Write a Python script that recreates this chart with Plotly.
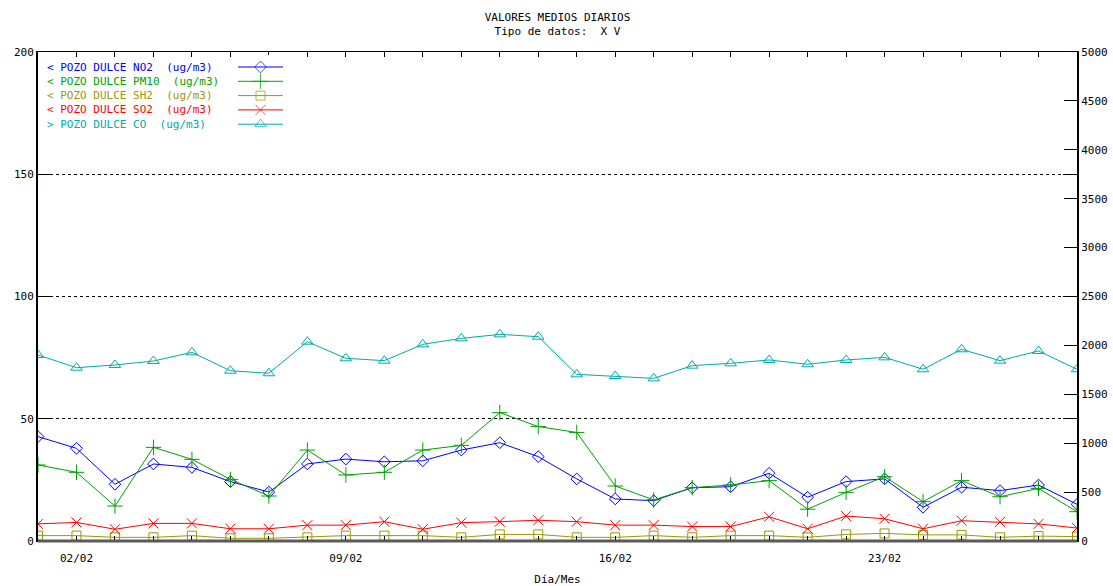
import plotly.graph_objects as go

# ---------------- data ----------------
days = list(range(1, 29))
day_labels = [f"{d:02d}/02" for d in days]
shown_labels = ["02/02", "09/02", "16/02", "23/02"]

no2 = [42.7, 37.9, 23.2, 31.5, 30.1, 24.3, 20.0, 31.5, 33.5, 32.4, 32.8, 37.2, 40.2, 34.5,
       25.4, 17.2, 16.5, 21.8, 22.2, 27.7, 17.9, 24.3, 25.4, 13.8, 22.0, 20.6, 22.9, 15.0]
pm10 = [31.1, 28.1, 14.3, 38.3, 33.4, 25.2, 18.4, 37.2, 27.0, 28.1, 37.2, 39.1, 52.5, 46.8,
        44.4, 22.5, 16.8, 21.8, 22.9, 24.7, 13.0, 19.9, 26.3, 16.1, 24.7, 18.1, 21.5, 12.0]
sh2 = [2.2, 2.2, 1.5, 1.5, 2.2, 1.1, 1.1, 1.5, 2.2, 2.2, 2.2, 1.5, 2.7, 2.7,
       1.5, 1.5, 2.2, 1.5, 2.2, 2.2, 1.5, 2.7, 3.1, 2.5, 2.5, 1.5, 2.0, 1.8]
so2 = [7.0, 7.6, 4.8, 7.2, 7.2, 5.0, 5.0, 6.5, 6.5, 7.9, 4.8, 7.5, 7.9, 8.5,
       7.9, 6.5, 6.5, 5.9, 5.9, 9.9, 5.0, 10.2, 9.1, 5.0, 8.3, 7.8, 7.0, 5.3]
co = [1902, 1772, 1800, 1840, 1929, 1741, 1715, 2038, 1868, 1844, 2011, 2072, 2113, 2089,
      1704, 1687, 1663, 1793, 1817, 1851, 1807, 1851, 1878, 1756, 1960, 1844, 1943, 1756]

legend_texts = ["< POZO DULCE NO2  (ug/m3)",
                "< POZO DULCE PM10  (ug/m3)",
                "< POZO DULCE SH2  (ug/m3)",
                "< POZO DULCE SO2  (ug/m3)",
                "> POZO DULCE CO  (ug/m3)"]

left_ticks = [0, 50, 100, 150, 200]
right_ticks = list(range(0, 5001, 500))

# ---------------- styles ----------------
FONT = "DejaVu Sans Mono"
series = [
    dict(y=no2, color="#0000ff", symbol="diamond-open", size=9, axis="y"),
    dict(y=pm10, color="#00a000", symbol="cross-thin-open", size=11, axis="y"),
    dict(y=sh2, color="#999900", symbol="square-open", size=9, axis="y"),
    dict(y=so2, color="#ff0000", symbol="x-thin-open", size=10, axis="y"),
    dict(y=co, color="#00aaaa", symbol="triangle-up-open", size=10, axis="y2"),
]

# plot-area pixel geometry
W, H = 1113, 586
L, R, T, B = 38, 36, 52, 45
PW, PH = W - L - R, H - T - B

def px_x(px):
    return (px - L) / PW

def px_y(py):
    return (H - B - py) / PH

fig = go.Figure()

for s, name in zip(series, legend_texts):
    fig.add_trace(go.Scatter(
        x=days, y=s["y"], yaxis=s["axis"], name=name, mode="lines+markers",
        line=dict(color=s["color"], width=1),
        marker=dict(symbol=s["symbol"], size=s["size"], color=s["color"],
                    line=dict(color=s["color"], width=1)),
        showlegend=False, cliponaxis=True,
    ))

# manual legend (text left, sample right)
row_y0, row_dy = 67, 14.3
for i, (s, name) in enumerate(zip(series, legend_texts)):
    ry = row_y0 + i * row_dy
    fig.add_annotation(x=px_x(45), y=px_y(ry), xref="paper", yref="paper",
                       text=name, showarrow=False, xanchor="left", yanchor="middle",
                       font=dict(family=FONT, size=11, color=s["color"]))
    fig.add_trace(go.Scatter(
        x=[0, 0.5, 1], y=[ry, ry, ry], xaxis="x3", yaxis="y3", mode="lines+markers",
        line=dict(color=s["color"], width=1),
        marker=dict(symbol=s["symbol"], size=[0, s["size"], 0], color=s["color"],
                    line=dict(color=s["color"], width=1)),
        showlegend=False, hoverinfo="skip", cliponaxis=False,
    ))

ticktext = [lbl if lbl in shown_labels else "" for lbl in day_labels]

fig.update_layout(
    width=W, height=H,
    margin=dict(l=L, r=R, t=T, b=B, pad=0, autoexpand=False),
    paper_bgcolor="white", plot_bgcolor="white",
    font=dict(family=FONT, size=11, color="black"),
    showlegend=False,
    title=dict(text="VALORES MEDIOS DIARIOS<br>Tipo de datos:  X V",
               x=557.5 / W, xanchor="center",
               y=1 - 21 / H, yanchor="top", yref="container", automargin=False,
               font=dict(family=FONT, size=11, color="black")),
    xaxis=dict(range=[1, 28], tickvals=days, ticktext=ticktext, automargin=False,
               ticks="inside", ticklen=5, tickcolor="black", ticklabelstandoff=7,
               showline=True, linecolor="black", linewidth=1, mirror="ticks",
               showgrid=False, zeroline=False,
               title=dict(text="Día/Mes", standoff=11, font=dict(family=FONT, size=11)),
               tickfont=dict(family=FONT, size=11)),
    yaxis=dict(range=[0, 200], tickvals=left_ticks, ticks="inside", ticklen=14,
               tickcolor="black", tickwidth=1, automargin=False,
               showline=True, linecolor="black", linewidth=2, mirror="ticks",
               showgrid=True, gridcolor="black", griddash="dot", gridwidth=1,
               zeroline=False, tickfont=dict(family=FONT, size=11)),
    yaxis2=dict(range=[0, 5000], tickvals=right_ticks, overlaying="y", side="right",
                ticks="inside", ticklen=13, tickcolor="black", automargin=False,
                showline=True, linecolor="black", linewidth=2,
                showgrid=False, zeroline=False, tickfont=dict(family=FONT, size=11)),
    xaxis3=dict(domain=[px_x(238), px_x(283)], range=[0, 1], anchor="y3",
                visible=False, fixedrange=True),
    yaxis3=dict(domain=[px_y(135), px_y(55)], range=[135, 55], anchor="x3",
                visible=False, fixedrange=True),
)

# thick grey bottom axis line
fig.add_shape(type="line", xref="paper", yref="paper", x0=0, x1=1, y0=0, y1=0,
              line=dict(color="#5a5a5a", width=3))

fig.write_html("out.html",
               config={"displayModeBar": False},
               post_script="document.body.style.margin='0';"
                           "document.body.style.overflow='hidden';")
